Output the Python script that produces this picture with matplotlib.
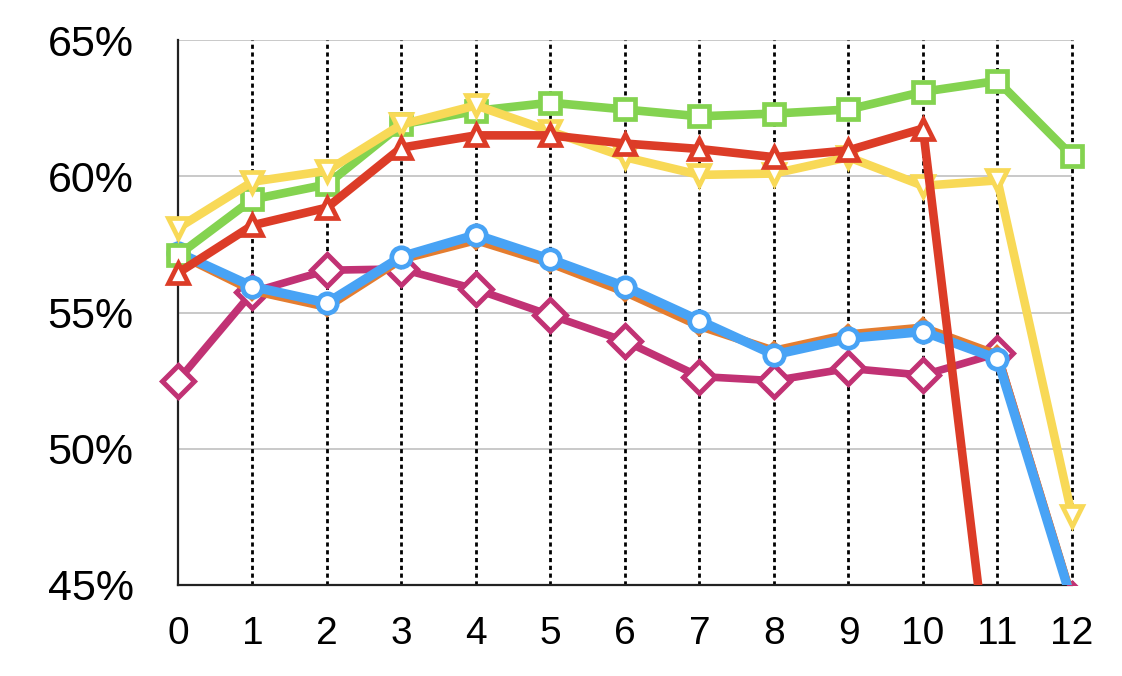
import numpy as np
import matplotlib
matplotlib.use("Agg")
import matplotlib.pyplot as plt
from matplotlib.patches import Rectangle

plt.rcParams['font.family'] = ['Liberation Sans', 'DejaVu Sans']

x = list(range(13))
x_labels = [str(i) for i in x]
y_ticks = [45, 50, 55, 60, 65]
y_labels = ['45%', '50%', '55%', '60%', '65%']

magenta = [52.5, 55.75, 56.55, 56.6, 55.85, 54.9, 53.95, 52.65, 52.5, 52.95, 52.7, 53.5, 44.5]
orange  = [57.15, 55.8, 55.2, 56.95, 57.65, 56.8, 55.75, 54.5, 53.6, 54.2, 54.45, 53.45, 44.5]
blue    = [57.2, 55.95, 55.35, 57.05, 57.85, 56.95, 55.95, 54.7, 53.45, 54.05, 54.3, 53.3, 44.4]
green   = [57.1, 59.15, 59.7, 61.9, 62.4, 62.7, 62.45, 62.2, 62.3, 62.45, 63.1, 63.5, 60.75]
yellow  = [58.1, 59.8, 60.2, 61.9, 62.6, 61.65, 60.7, 60.05, 60.1, 60.7, 59.65, 59.85, 47.55]
red     = [56.45, 58.2, 58.85, 61.05, 61.5, 61.5, 61.2, 61.0, 60.7, 60.95, 61.75, 39.1, 38.0]

fig = plt.figure(figsize=(11.22, 6.76), dpi=100)
ax = fig.add_axes([178/1122, 91/676, (1072-178)/1122, (585-40)/676])

ax.set_xlim(0, 12)
ax.set_ylim(45, 65)

for yv in [50, 55, 60, 65]:
    ax.axhline(yv, color='#BBBBBB', lw=1.1, zorder=0.5)
for xv in range(1, 13):
    ax.axvline(xv, color='black', lw=2.0, linestyle=(0, (1.5, 1.3)),
               zorder=0.6, clip_on=False)

clip = Rectangle((-0.06, 0.0), 1.12, 1.2, transform=ax.transAxes)

series = [
    (magenta, '#C13274', 'D', 16, 5.5, 3.6, 1),
    (orange,  '#E47D30', 'D', 8, 6.0, 3.0, 2),
    (blue,    '#48A3F5', 'o', 14, 6.8, 3.4, 3),
    (green,   '#84D350', 's', 14, 6.2, 3.4, 4),
    (yellow,  '#F8D957', 'v', 14.5, 6.2, 3.4, 5),
    (red,     '#DC3C27', '^', 14, 6.2, 3.4, 6),
]
for vals, col, mk, ms, lw, mew, z in series:
    ln, = ax.plot(x, vals, color=col, lw=lw, marker=mk, ms=ms,
                  markerfacecolor='white', markeredgecolor=col,
                  markeredgewidth=mew, zorder=z, solid_joinstyle='miter')
    ln.set_clip_path(clip)

for s in ['top', 'right']:
    ax.spines[s].set_visible(False)
for s in ['left', 'bottom']:
    ax.spines[s].set_linewidth(1.6)
    ax.spines[s].set_color('#222222')
    ax.spines[s].set_zorder(0.7)

ax.set_xticks(x)
ax.set_xticklabels(x_labels, fontsize=28)
ax.set_yticks(y_ticks)
ax.set_yticklabels(y_labels, fontsize=31)
ax.tick_params(axis='x', length=0, pad=22)
ax.tick_params(axis='y', length=0, pad=32)

fig.savefig('out.png', dpi=100)
